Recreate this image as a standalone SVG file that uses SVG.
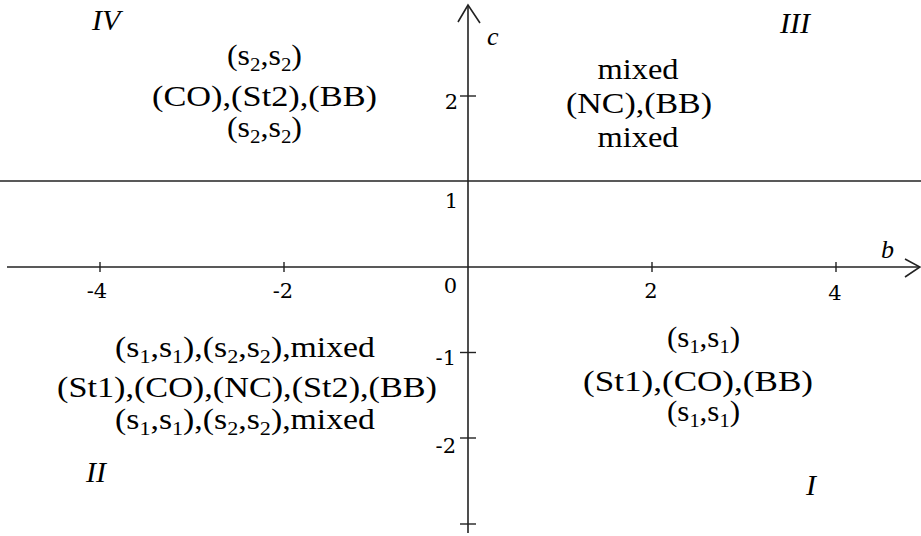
<svg xmlns="http://www.w3.org/2000/svg" width="921" height="536" viewBox="0 0 921 536">
<style>
.ax{stroke:#222;stroke-width:1.6;fill:none}
.tk{stroke:#222;stroke-width:1.4}
.t{font-family:"Liberation Serif","DejaVu Serif",serif;font-size:29px;fill:#000;text-anchor:middle}
.sub{font-size:19px}
.n{font-family:"DejaVu Serif","Liberation Serif",serif;font-size:21px;fill:#000}
.it{font-family:"Liberation Serif","DejaVu Serif",serif;font-style:italic;font-size:30px;fill:#000}
.v{font-family:"Liberation Serif","DejaVu Serif",serif;font-style:italic;font-size:26px;fill:#000}
</style>
<rect width="921" height="536" fill="#fff"/>
<g id="axes">
<line class="ax" x1="0" y1="181" x2="921" y2="181"/>
<line class="ax" x1="7" y1="267" x2="919" y2="267"/>
<polyline class="ax" points="905,259 920,267 905,277"/>
<line class="ax" x1="468" y1="5" x2="468" y2="533"/>
<polyline class="ax" points="458,22 468,5 480,23"/>
</g>
<g id="ticks">
<line class="tk" x1="100" y1="262" x2="100" y2="272"/>
<line class="tk" x1="284" y1="262" x2="284" y2="272"/>
<line class="tk" x1="652" y1="262" x2="652" y2="272"/>
<line class="tk" x1="836" y1="262" x2="836" y2="272"/>
<line class="tk" x1="460" y1="96" x2="476" y2="96"/>
<line class="tk" x1="460" y1="352.5" x2="476" y2="352.5"/>
<line class="tk" x1="460" y1="438" x2="476" y2="438"/>
<line class="tk" x1="460" y1="524" x2="476" y2="524"/>
</g>
<g id="tick-labels">
<text class="n" x="458" y="109" text-anchor="end">2</text>
<text class="n" x="458" y="208" text-anchor="end">1</text>
<text class="n" x="457" y="293" text-anchor="end">0</text>
<text class="n" x="456" y="365" text-anchor="end">-1</text>
<text class="n" x="456" y="453" text-anchor="end">-2</text>
<text class="n" x="97" y="298" text-anchor="middle">-4</text>
<text class="n" x="283" y="298" text-anchor="middle">-2</text>
<text class="n" x="651" y="298" text-anchor="middle">2</text>
<text class="n" x="835" y="300" text-anchor="middle">4</text>
</g>
<g id="axis-names">
<text class="v" x="487" y="45">c</text>
<text class="v" x="881" y="258">b</text>
</g>
<g id="quadrant-labels">
<text class="it" x="92" y="30">IV</text>
<text class="it" x="780" y="33">III</text>
<text class="it" x="86" y="482">II</text>
<text class="it" x="806" y="495">I</text>
</g>
<g id="region-IV">
<text class="t" x="264.5" y="65" textLength="75" lengthAdjust="spacingAndGlyphs">(s<tspan class="sub" dy="6">2</tspan><tspan dy="-6">,s</tspan><tspan class="sub" dy="6">2</tspan><tspan dy="-6">)</tspan></text>
<text class="t" x="264.5" y="106" textLength="225" lengthAdjust="spacingAndGlyphs">(CO),(St2),(BB)</text>
<text class="t" x="264.5" y="137" textLength="75" lengthAdjust="spacingAndGlyphs">(s<tspan class="sub" dy="6">2</tspan><tspan dy="-6">,s</tspan><tspan class="sub" dy="6">2</tspan><tspan dy="-6">)</tspan></text>
</g>
<g id="region-III">
<text class="t" x="638" y="79" textLength="81" lengthAdjust="spacingAndGlyphs">mixed</text>
<text class="t" x="639" y="113" textLength="146" lengthAdjust="spacingAndGlyphs">(NC),(BB)</text>
<text class="t" x="638" y="147" textLength="81" lengthAdjust="spacingAndGlyphs">mixed</text>
</g>
<g id="region-II">
<text class="t" x="245" y="357" textLength="260" lengthAdjust="spacingAndGlyphs">(s<tspan class="sub" dy="6">1</tspan><tspan dy="-6">,s</tspan><tspan class="sub" dy="6">1</tspan><tspan dy="-6">),(s</tspan><tspan class="sub" dy="6">2</tspan><tspan dy="-6">,s</tspan><tspan class="sub" dy="6">2</tspan><tspan dy="-6">),mixed</tspan></text>
<text class="t" x="247" y="397" textLength="380" lengthAdjust="spacingAndGlyphs">(St1),(CO),(NC),(St2),(BB)</text>
<text class="t" x="245" y="429" textLength="260" lengthAdjust="spacingAndGlyphs">(s<tspan class="sub" dy="6">1</tspan><tspan dy="-6">,s</tspan><tspan class="sub" dy="6">1</tspan><tspan dy="-6">),(s</tspan><tspan class="sub" dy="6">2</tspan><tspan dy="-6">,s</tspan><tspan class="sub" dy="6">2</tspan><tspan dy="-6">),mixed</tspan></text>
</g>
<g id="region-I">
<text class="t" x="703.5" y="347" textLength="73" lengthAdjust="spacingAndGlyphs">(s<tspan class="sub" dy="6">1</tspan><tspan dy="-6">,s</tspan><tspan class="sub" dy="6">1</tspan><tspan dy="-6">)</tspan></text>
<text class="t" x="698" y="391" textLength="230" lengthAdjust="spacingAndGlyphs">(St1),(CO),(BB)</text>
<text class="t" x="703.5" y="421" textLength="73" lengthAdjust="spacingAndGlyphs">(s<tspan class="sub" dy="6">1</tspan><tspan dy="-6">,s</tspan><tspan class="sub" dy="6">1</tspan><tspan dy="-6">)</tspan></text>
</g>
</svg>
